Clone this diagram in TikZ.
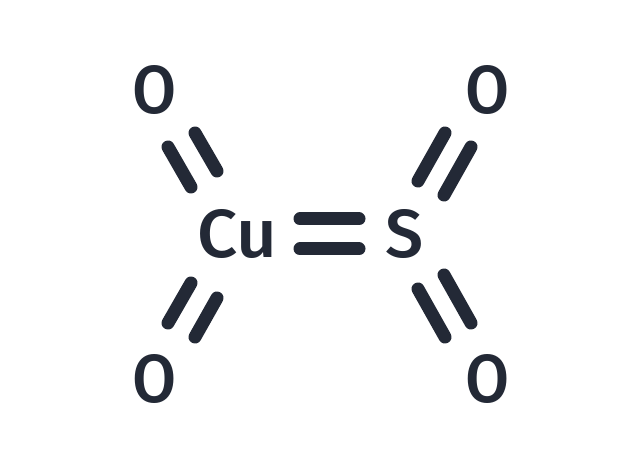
\documentclass[tikz,border=0pt]{standalone}
\usepackage{fontspec}
\setmainfont{Fira Sans Medium}
\definecolor{ink}{HTML}{232936}
\tikzset{
  atom/.style={text=ink,font=\fontsize{68}{68}\selectfont,inner sep=0pt,anchor=center},
  oxy/.style={atom,xscale=0.94},
  metal/.style={atom,xscale=1.04},
  bondline/.style={draw=ink,line width=13pt,line cap=round}
}
\begin{document}
\begin{tikzpicture}[x=1pt,y=-1pt]
\useasboundingbox[fill=white] (0,0) rectangle (640,470);
\node[oxy] (o1) at (155,90) {O};
\node[oxy] (o2) at (488,90) {O};
\node[oxy] (o3) at (155,379) {O};
\node[oxy] (o4) at (488,379) {O};
\node[metal] (cu) at (237,234) {Cu};
\node[atom] (s) at (405,234) {S};
\coordinate (a1) at (168,147); \coordinate (a2) at (191,187);
\coordinate (b1) at (195,133); \coordinate (b2) at (217,171);
\draw[bondline] (a1)--(a2); \draw[bondline] (b1)--(b2);
\coordinate (c1) at (300,219); \coordinate (c2) at (359,219);
\coordinate (d1) at (300,249); \coordinate (d2) at (359,249);
\draw[bondline] (c1)--(c2); \draw[bondline] (d1)--(d2);
\coordinate (e1) at (445,133); \coordinate (e2) at (418,181);
\coordinate (f1) at (471,147); \coordinate (f2) at (444,195);
\draw[bondline] (e1)--(e2); \draw[bondline] (f1)--(f2);
\coordinate (g1) at (191,283); \coordinate (g2) at (168,323);
\coordinate (h1) at (217,298); \coordinate (h2) at (195,337);
\draw[bondline] (g1)--(g2); \draw[bondline] (h1)--(h2);
\coordinate (i1) at (418,289); \coordinate (i2) at (445,337);
\coordinate (j1) at (444,275); \coordinate (j2) at (471,323);
\draw[bondline] (i1)--(i2); \draw[bondline] (j1)--(j2);
\end{tikzpicture}
\end{document}
